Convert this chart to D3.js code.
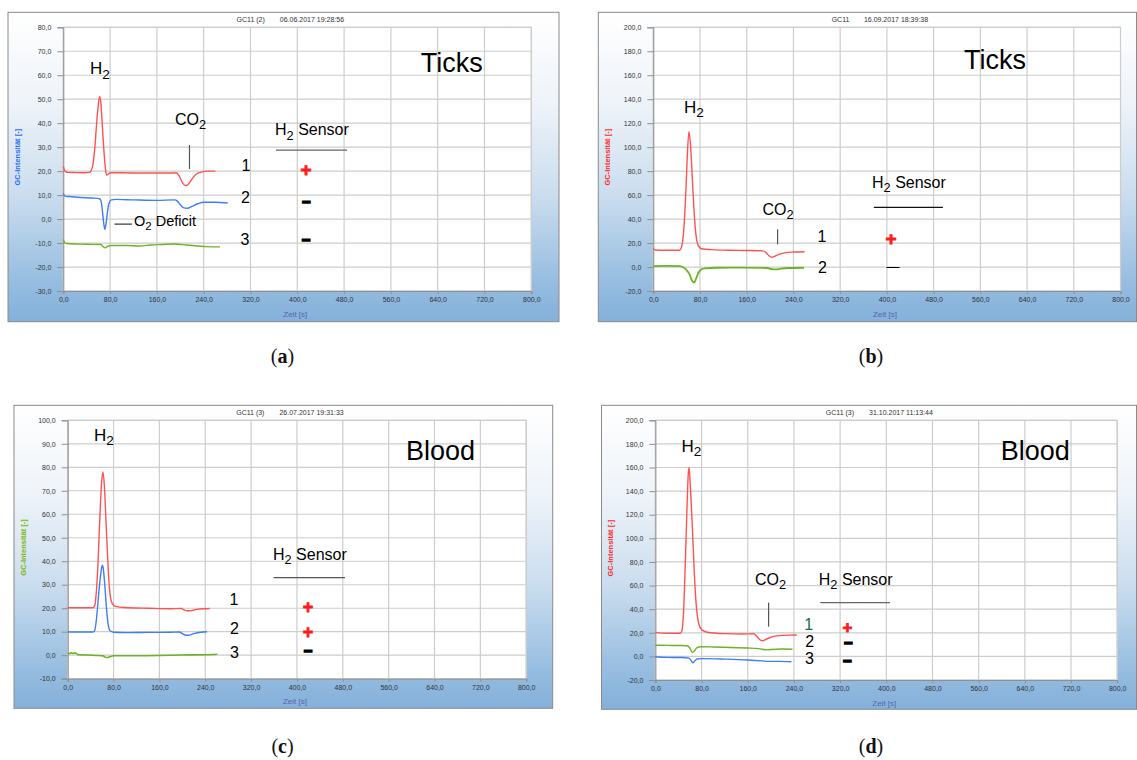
<!DOCTYPE html>
<html><head><meta charset="utf-8">
<script src="https://cdn.jsdelivr.net/npm/d3@7"></script>
<style>body{margin:0;background:#fff}svg{display:block}</style>
</head><body>
<svg id="chart" width="1137" height="760"></svg>
<script>
// ---------- DATA ----------
const xTicks = [0, 80, 160, 240, 320, 400, 480, 560, 640, 720, 800];
const yTicksA = [-30, -20, -10, 0, 10, 20, 30, 40, 50, 60, 70, 80];
const yTicksB = [-20, 0, 20, 40, 60, 80, 100, 120, 140, 160, 180, 200];
const yTicksC = [-10, 0, 10, 20, 30, 40, 50, 60, 70, 80, 90, 100];
const yTicksD = [-20, 0, 20, 40, 60, 80, 100, 120, 140, 160, 180, 200];

const titlesGC = ["GC11 (2)", "GC11", "GC11 (3)", "GC11 (3)"];
const titlesDate = ["06.06.2017 19:28:56", "16.09.2017 18:39:38", "26.07.2017 19:31:33", "31.10.2017 11:13:44"];
const sampleLabels = ["Ticks", "Ticks", "Blood", "Blood"];
const panelLetters = ["a", "b", "c", "d"];
const sensorResultsA = ["+", "−", "−"];
const sensorResultsB = ["+", "—"];
const sensorResultsC = ["+", "+", "−"];
const sensorResultsD = ["+", "−", "−"];

// panel (a)
const aRed = [[0,22],[3,20],[8,19.5],[20,19.4],[35,19.3],[45,19.5],[50,22],[54,30],[57,40],[60,48],[62,51],[64,49],[66,42],[69,30],[72,21],[74,18.4],[77,18.8],[80,19.3],[100,19.3],[140,19.2],[180,19.2],[193,19.3],[198,18],[203,15.5],[208,14],[212,14.2],[218,16],[226,18.5],[235,19.6],[250,20],[260,20]];
const aBlue = [[0,10.7],[3,9.6],[10,9.4],[30,9],[50,8.8],[62,8.5],[65,7],[67,3],[69,-1.5],[71,-4.3],[73,-2],[75,2],[78,6.5],[82,8],[90,8.2],[120,8],[160,7.8],[190,8],[195,7.5],[200,6],[205,4.8],[212,4.5],[220,5.3],[230,6.4],[240,7],[260,7],[281,6.7]];
const aGreen = [[0,-8.5],[3,-10],[10,-10.3],[40,-10.5],[64,-10.6],[68,-11.5],[72,-12],[76,-11.3],[82,-11],[110,-11],[130,-11.2],[150,-10.8],[170,-10.6],[190,-10.4],[210,-10.8],[230,-11.2],[245,-11.5],[268,-11.6]];
// panel (b)
const bRed = [[0,15.5],[3,14.2],[20,14],[45,14],[48,16],[52,30],[55,55],[58,90],[61,113],[64,100],[67,72],[70,45],[73,27],[76,19],[80,16],[85,15],[100,14.5],[130,14],[160,13.8],[188,13.5],[193,12],[198,9.5],[203,8.2],[208,9],[215,10.5],[225,11.8],[240,12.5],[259,12.8]];
const bGreen = [[0,0.8],[20,0.9],[45,0.7],[50,0],[56,-2],[62,-6],[66,-11],[70,-13],[73,-10],[77,-5],[82,-2],[88,-1.2],[110,-0.6],[150,-0.5],[195,-0.8],[203,-1.8],[210,-2],[218,-1.4],[230,-0.8],[258,-0.6]];
// panel (c)
const cRed = [[0,20.2],[20,20.2],[44,20.2],[47,21],[50,27],[53,40],[56,58],[59,73],[61.5,78],[64,72],[67,56],[70,40],[73,28],[76,23],[80,21.3],[85,20.7],[100,20.3],[140,20],[180,19.8],[198,19.9],[203,19.3],[208,18.9],[215,19],[225,19.5],[240,19.8],[248,19.9]];
const cBlue = [[0,9.9],[20,9.9],[44,9.9],[47,10.5],[50,15],[53,23],[56,31],[59,37],[60.5,38.3],[62,37],[65,29],[68,19],[71,12.5],[74,10.4],[80,9.8],[100,9.6],[140,9.7],[180,9.8],[195,9.9],[200,9.2],[205,8.6],[210,8.5],[220,9.2],[232,9.8],[243,10]];
const cGreen = [[0,1],[3,0.6],[6,1.1],[9,0.7],[12,1],[15,0.8],[18,0.2],[30,0.1],[50,-0.1],[62,-0.3],[66,-0.9],[70,-1],[74,-0.6],[80,-0.2],[120,-0.2],[160,-0.1],[200,0.1],[240,0.2],[261,0.4]];
// panel (d)
const dRed = [[0,20.4],[10,19.7],[30,19.6],[43,19.6],[46,22],[49,40],[52,82],[55,130],[57,155],[58.3,160],[61,140],[64,110],[67,75],[70,48],[73,33],[77,25],[82,22],[90,20.5],[120,19.3],[150,19],[170,19.2],[175,17.5],[180,14.5],[185,13.3],[192,14.5],[202,16.5],[215,17.6],[230,18],[245,18.1]];
const dGreen = [[0,9.5],[20,9.3],[40,9.2],[55,9],[59,7.5],[63,4],[65,3.4],[68,5],[72,7.5],[78,8.2],[100,8],[130,7.5],[160,7.1],[175,6.8],[185,6],[192,5.5],[200,5.8],[220,6.2],[237.5,6]];
const dBlue = [[0,-0.3],[20,-0.8],[45,-1],[58,-1.5],[62,-3.5],[65,-5.5],[68,-4],[72,-2.2],[80,-1.9],[120,-2.3],[160,-3],[185,-3.8],[195,-4.2],[215,-4.2],[235.6,-4.5]];

// ---------- STYLE / LAYOUT ----------
const RED = "#ff5252", BLUE = "#3d7ff2", GREEN = "#6cb226";
const SANS = "'Liberation Sans', Arial, sans-serif";

const panels = [
  { frame:[8,12.3,559,321.7], plot:[63.3,27.3,531.3,291], yTicks:yTicksA, yLabelColor:"#2a6ef0",
    series:[{d:aRed,c:RED},{d:aBlue,c:BLUE},{d:aGreen,c:GREEN}],
    big:{x:611,y:65.6}, h2:{x:45.6,y:63.1},
    co2:{x:191,y:41.7,line:[215.7,30.9,215.7,20.9]},
    sensor:{x:361.9,y:37.4,line:[363.6,28.8,485,28.8],lineColor:"#666"},
    nums:[[312.3,22.3],[311.5,9.1],[310.6,-8.4]], numColors:["#000","#000","#000"],
    res:sensorResultsA, resPos:[[414.9,20.8],[415.7,7.2],[414.9,-8.4]], plusSize:19,
    o2:{x:120.9,y:-0.6,line:[87.5,-2.1,117.4,-2.1]}, caption:[282.5,356] },
  { frame:[598.3,12.3,1136.5,321.7], plot:[653.3,27.3,1120.5,291], yTicks:yTicksB, yLabelColor:"#ff2a2a",
    series:[{d:bRed,c:RED},{d:bGreen,c:GREEN,w:1.8}],
    big:{x:532,y:173.4}, h2:{x:52.6,y:133.8},
    co2:{x:186.8,y:48.1,line:[212.8,31.5,212.8,18.9]},
    sensor:{x:374.5,y:70.7,line:[377.6,49.8,495.9,49.8],lineColor:"#111"},
    nums:[[288.9,25.9],[289.6,-0.2]], numColors:["#000","#000"],
    res:sensorResultsB, resPos:[[407,23.4],[410.4,0.3]], plusSize:19, caption:[871,356] },
  { frame:[14,405.3,552.7,708.3], plot:[67.7,420.3,526.2,678.7], yTicks:yTicksC, yLabelColor:"#74b800",
    series:[{d:cRed,c:RED},{d:cBlue,c:BLUE},{d:cGreen,c:GREEN,w:1.6}],
    big:{x:590.3,y:87.4}, h2:{x:45.9,y:93.9},
    sensor:{x:358.2,y:43,line:[359.1,33,483.9,33],lineColor:"#555"},
    nums:[[290.2,23.8],[291,11.4],[291,1.2]], numColors:["#000","#000","#000"],
    res:sensorResultsC, resPos:[[419.3,20.6],[419.3,10],[419.3,1.8]], plusSize:18, caption:[282.5,745.5] },
  { frame:[601.5,405.3,1136.5,709.3], plot:[655.4,420.3,1117.2,680], yTicks:yTicksD, yLabelColor:"#ff2a2a",
    series:[{d:dRed,c:RED},{d:dGreen,c:GREEN},{d:dBlue,c:BLUE}],
    big:{x:598.1,y:174.8}, h2:{x:45,y:178.5},
    co2:{x:172.5,y:65.3,line:[196.1,45.5,196.1,25.2]},
    sensor:{x:283,y:65.3,line:[285.6,45.5,406.3,45.5],lineColor:"#666"},
    nums:[[265.7,27.2],[267.5,12.5],[266.8,-1.6]], numColors:["#136b50","#000","#000"],
    res:sensorResultsD, resPos:[[332.6,24.6],[334.5,11.9],[332.6,-3.6]], plusSize:17, caption:[871,745.5] }
];

const svg = d3.select("#chart");
const defs = svg.append("defs");
const grad = defs.append("linearGradient").attr("id","bg").attr("x1",0).attr("y1",0).attr("x2",0).attr("y2",1);
[[0,"#ffffff"],[0.3,"#eef3f9"],[0.6,"#c9dcee"],[0.88,"#95bce0"],[1,"#84b0da"]].forEach(s =>
  grad.append("stop").attr("offset", s[0]).attr("stop-color", s[1]));

const fmt = v => v.toFixed(1).replace(".", ",");

function richText(g, str, x, y, size, opts = {}) {
  const t = g.append("text").attr("x", x).attr("y", y + size * 0.36)
    .attr("font-family", SANS).attr("font-size", size).attr("fill", opts.fill || "#000");
  const parts = str.split(/\{(.*?)\}/);
  parts.forEach((p, i) => {
    if (!p) return;
    if (i % 2 === 1) {
      t.append("tspan").attr("font-size", size * 0.8).attr("dy", size * 0.27).text(p);
    } else {
      const ts = t.append("tspan").text(p);
      if (i > 0) ts.attr("dy", -size * 0.27);
    }
  });
  return t;
}

panels.forEach((p, i) => {
  const g = svg.append("g");
  const [fx0, fy0, fx1, fy1] = p.frame;
  const [px0, py0, px1, py1] = p.plot;
  g.append("rect").attr("x", fx0).attr("y", fy0).attr("width", fx1 - fx0).attr("height", fy1 - fy0)
    .attr("fill", "url(#bg)").attr("stroke", "#8a8a8a").attr("stroke-width", 1);

  const x = d3.scaleLinear().domain([0, 800]).range([px0, px1]);
  const y = d3.scaleLinear().domain([p.yTicks[0], p.yTicks[p.yTicks.length - 1]]).range([py1, py0]);

  g.append("rect").attr("x", px0).attr("y", py0).attr("width", px1 - px0).attr("height", py1 - py0)
    .attr("fill", "#fff").attr("stroke", "#c4c4c4");

  // grid
  g.append("g").selectAll("line").data(p.yTicks).join("line")
    .attr("x1", px0).attr("x2", px1).attr("y1", d => y(d)).attr("y2", d => y(d))
    .attr("stroke", "#cdcdcd").attr("stroke-width", 1.2);
  g.append("g").selectAll("line").data(xTicks).join("line")
    .attr("y1", py0).attr("y2", py1).attr("x1", d => x(d)).attr("x2", d => x(d))
    .attr("stroke", "#cdcdcd").attr("stroke-width", 1.2);

  // axes
  const ay = g.append("g").attr("transform", `translate(${px0},0)`)
    .call(d3.axisLeft(y).tickValues(p.yTicks).tickFormat(fmt).tickSize(6).tickPadding(6));
  const ax = g.append("g").attr("transform", `translate(0,${py1})`)
    .call(d3.axisBottom(x).tickValues(xTicks).tickFormat(fmt).tickSize(3).tickPadding(3));
  [ay, ax].forEach(a => {
    a.selectAll("path.domain").attr("stroke", "#8f8f8f");
    a.selectAll(".tick line").attr("stroke", "#8f8f8f");
    a.selectAll("text").attr("font-family", SANS).attr("font-size", 7).attr("fill", "#333");
  });

  // title
  const cx = (px0 + px1) / 2;
  const tt = g.append("text").attr("x", cx - 7).attr("y", fy0 + 7.4 + 2.5)
    .attr("text-anchor", "middle").attr("font-family", SANS).attr("font-size", 7).attr("fill", "#333");
  tt.append("tspan").text(titlesGC[i]);
  tt.append("tspan").attr("dx", 15).text(titlesDate[i]);

  // axis labels
  g.append("text").attr("transform", `translate(${fx0 + 9},${(py0 + py1) / 2 - 2}) rotate(-90)`)
    .attr("text-anchor", "middle").attr("dominant-baseline", "central")
    .attr("font-family", SANS).attr("font-weight", "bold").attr("font-size", 7.5)
    .attr("fill", p.yLabelColor).text("GC-Intensität [-]");
  g.append("text").attr("x", cx - 2).attr("y", py1 + 23).attr("text-anchor", "middle")
    .attr("dominant-baseline", "central").attr("font-family", SANS).attr("font-size", 8)
    .attr("fill", "#5a62b5").text("Zeit [s]");

  // series
  const line = d3.line().x(d => x(d[0])).y(d => y(d[1])).curve(d3.curveMonotoneX);
  p.series.forEach(s => {
    g.append("path").attr("d", line(s.d)).attr("fill", "none")
      .attr("stroke", s.c).attr("stroke-width", s.w || 1.4).attr("stroke-linejoin", "round");
  });

  // annotations
  richText(g, sampleLabels[i], x(p.big.x), y(p.big.y), 27);
  richText(g, "H{2}", x(p.h2.x), y(p.h2.y), 17);
  if (p.co2) {
    richText(g, "CO{2}", x(p.co2.x), y(p.co2.y), 16);
    const l = p.co2.line;
    g.append("line").attr("x1", x(l[0])).attr("y1", y(l[1])).attr("x2", x(l[2])).attr("y2", y(l[3]))
      .attr("stroke", "#555").attr("stroke-width", 1.2);
  }
  richText(g, "H{2} Sensor", x(p.sensor.x), y(p.sensor.y), 16);
  {
    const l = p.sensor.line;
    g.append("line").attr("x1", x(l[0])).attr("y1", y(l[1])).attr("x2", x(l[2])).attr("y2", y(l[3]))
      .attr("stroke", p.sensor.lineColor).attr("stroke-width", 1.3);
  }
  if (p.o2) {
    const l = p.o2.line;
    g.append("line").attr("x1", x(l[0])).attr("y1", y(l[1])).attr("x2", x(l[2])).attr("y2", y(l[3]))
      .attr("stroke", "#333").attr("stroke-width", 1.2);
    richText(g, "O{2} Deficit", x(p.o2.x), y(p.o2.y), 14.5);
  }
  p.nums.forEach((n, k) => {
    g.append("text").attr("x", x(n[0])).attr("y", y(n[1]) + 16 * 0.36).attr("text-anchor", "middle")
      .attr("font-family", SANS).attr("font-size", 16).attr("fill", p.numColors[k]).text(String(k + 1));
  });
  p.res.forEach((r, k) => {
    const pos = p.resPos[k];
    const t = g.append("text").attr("x", x(pos[0])).attr("y", y(pos[1]))
      .attr("text-anchor", "middle").attr("dominant-baseline", "central").attr("font-family", SANS);
    if (r === "+") {
      t.attr("font-size", p.plusSize).attr("font-weight", "bold").attr("fill", "#ff1a1a")
        .attr("stroke", "#ff1a1a").attr("stroke-width", 0.8).text("+");
    } else if (r === "—") {
      t.attr("font-size", 13).attr("fill", "#000").text("—");
    } else {
      t.attr("font-size", 15).attr("font-weight", "bold").attr("fill", "#000")
        .attr("stroke", "#000").attr("stroke-width", 1.4).text("−");
    }
  });

  // caption
  const cap = svg.append("text").attr("x", p.caption[0]).attr("y", p.caption[1])
    .attr("text-anchor", "middle").attr("dominant-baseline", "central")
    .attr("font-family", "'Liberation Serif', 'Times New Roman', serif").attr("font-size", 20).attr("fill", "#111");
  cap.append("tspan").text("(");
  cap.append("tspan").attr("font-weight", "bold").text(panelLetters[i]);
  cap.append("tspan").text(")");
});
</script>
</body></html>
